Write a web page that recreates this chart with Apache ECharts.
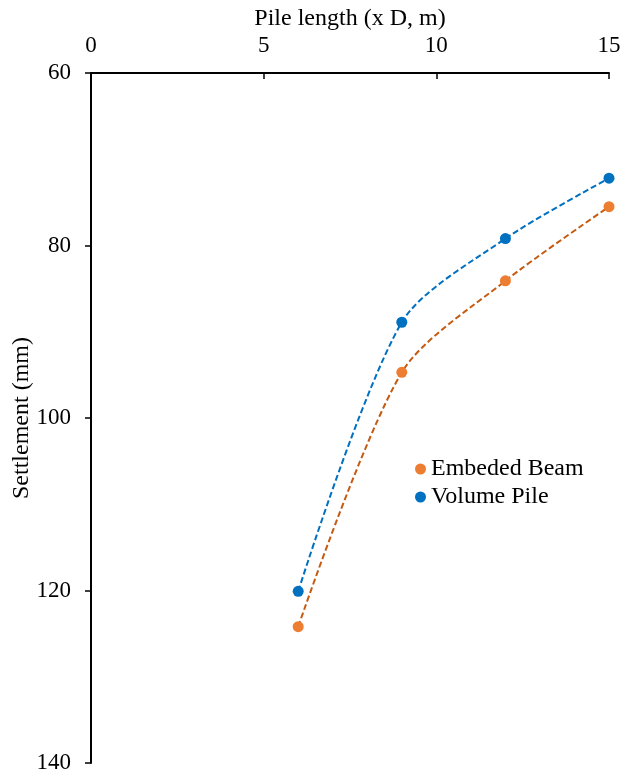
<!DOCTYPE html>
<html><head><meta charset="utf-8">
<script src="https://cdn.jsdelivr.net/npm/echarts@6/dist/echarts.min.js"></script>
<style>html,body{margin:0;padding:0;background:#fff}#c{width:624px;height:778px}</style>
</head><body><div id="c"></div>
<script>
const pileLength = [6, 9, 12, 15];
const embededBeam = [124.2, 94.7, 84.1, 75.5];
const volumePile = [120.1, 88.9, 79.2, 72.2];
const xTicks = [0, 5, 10, 15];
const yTicks = [60, 80, 100, 120, 140];

const pairs = (xs, ys) => xs.map((x, i) => [x, ys[i]]);
const font = 'Liberation Serif';
const chart = echarts.init(document.getElementById('c'));
chart.setOption({
  animation: false,
  backgroundColor: '#fff',
  grid: {left: 91, right: 15, top: 73, bottom: 15, outerBoundsMode: 'none', containLabel: false},
  legend: {
    orient: 'vertical', left: 410, top: 452, itemGap: 4,
    icon: 'circle', itemWidth: 11, itemHeight: 11,
    textStyle: {fontFamily: font, fontSize: 24, color: '#000'},
    data: ['Embeded Beam', 'Volume Pile']
  },
  xAxis: {
    type: 'value', position: 'top', min: xTicks[0], max: xTicks[xTicks.length-1], interval: 5,
    name: 'Pile length (x D, m)', nameLocation: 'middle', nameGap: 42, nameMoveOverlap: false,
    nameTextStyle: {fontFamily: font, fontSize: 24, color: '#000'},
    axisLine: {show: true, lineStyle: {color: '#000', width: 2}},
    axisTick: {show: true, inside: true, length: 6, lineStyle: {color: '#000', width: 1.5}},
    axisLabel: {fontFamily: font, fontSize: 23, color: '#000', margin: 16},
    splitLine: {show: false}
  },
  yAxis: {
    type: 'value', inverse: true, min: yTicks[0], max: yTicks[yTicks.length-1], interval: 20,
    name: 'Settlement (mm)', nameLocation: 'middle', nameGap: 57, nameRotate: 90, nameMoveOverlap: false,
    nameTextStyle: {fontFamily: font, fontSize: 24, color: '#000'},
    axisLine: {show: true, onZero: false, lineStyle: {color: '#000', width: 2}},
    axisTick: {show: true, length: 6, lineStyle: {color: '#000', width: 1.5}},
    axisLabel: {fontFamily: font, fontSize: 23, color: '#000', margin: 20},
    splitLine: {show: false}
  },
  series: [
    {name: 'Embeded Beam trend', type: 'line', smooth: 0.28, showSymbol: false, symbol: 'none',
     data: pairs(pileLength, embededBeam), lineStyle: {color: '#C55A11', width: 2, type: [6, 3]}, z: 2},
    {name: 'Volume Pile trend', type: 'line', smooth: 0.28, showSymbol: false, symbol: 'none',
     data: pairs(pileLength, volumePile), lineStyle: {color: '#0070C0', width: 2, type: [6, 3]}, z: 2},
    {name: 'Embeded Beam', type: 'scatter', symbolSize: 11, data: pairs(pileLength, embededBeam),
     itemStyle: {color: '#ED7D31', opacity: 1}, z: 3},
    {name: 'Volume Pile', type: 'scatter', symbolSize: 11, data: pairs(pileLength, volumePile),
     itemStyle: {color: '#0070C0', opacity: 1}, z: 3}
  ]
});
</script></body></html>
